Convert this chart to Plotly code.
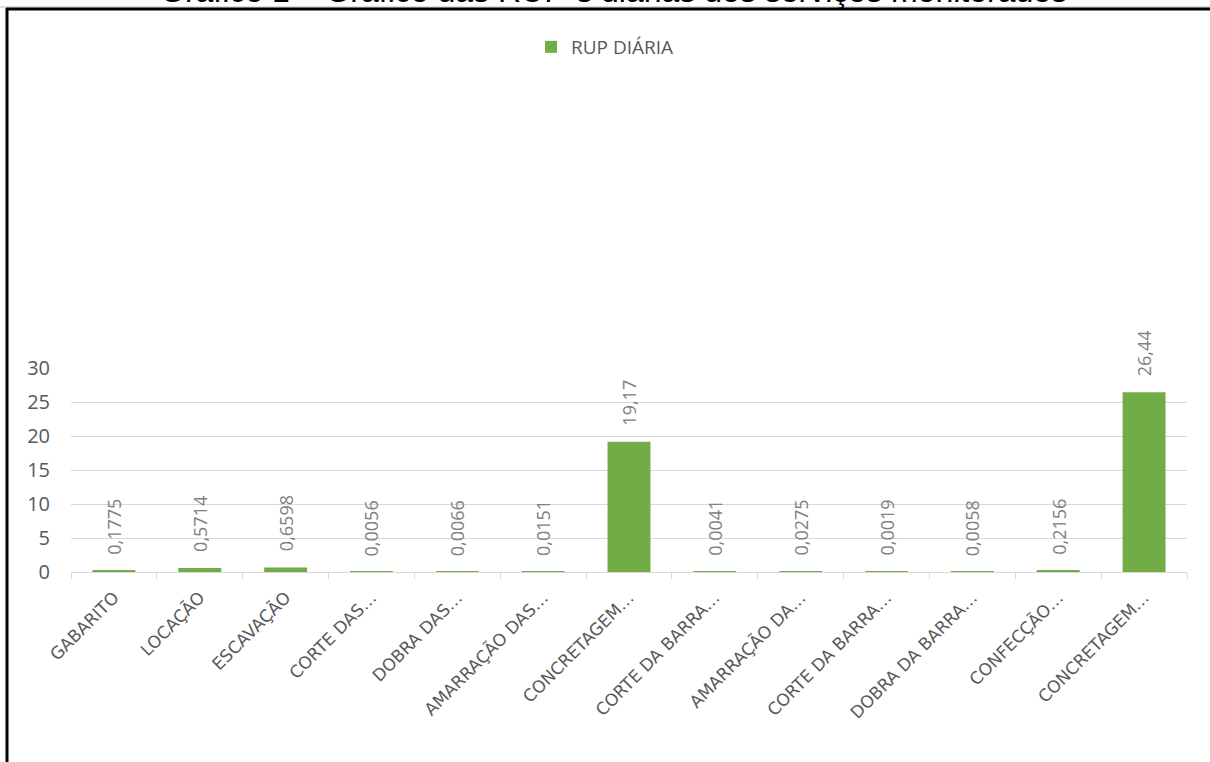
import plotly.graph_objects as go

categories = ["GABARITO", "LOCAÇÃO", "ESCAVAÇÃO", "CORTE DAS…", "DOBRA DAS…",
              "AMARRAÇÃO DAS…", "CONCRETAGEM…", "CORTE DA BARRA…", "AMARRAÇÃO DA…",
              "CORTE DA BARRA…", "DOBRA DA BARRA…", "CONFECÇÃO…", "CONCRETAGEM…"]
rup_diaria = [0.1775, 0.5714, 0.6598, 0.0056, 0.0066, 0.0151, 19.17,
              0.0041, 0.0275, 0.0019, 0.0058, 0.2156, 26.44]
value_labels = ["0,1775", "0,5714", "0,6598", "0,0056", "0,0066", "0,0151", "19,17",
                "0,0041", "0,0275", "0,0019", "0,0058", "0,2156", "26,44"]
y_ticks = [0, 5, 10, 15, 20, 25, 30]
series_name = "RUP DIÁRIA"
title_text = "Gráfico 1 – Gráfico das RUP´s diárias dos serviços monitorados"

W, H = 1210, 762
GREEN = "#70ad47"
GRID = "#d9d9d9"
TXT = "#595959"

x_idx = list(range(len(categories)))

fig = go.Figure()
fig.add_trace(go.Bar(
    x=x_idx, y=rup_diaria, name=series_name, width=0.5,
    marker=dict(color=GREEN, line=dict(width=0)),
    showlegend=True, hoverinfo="skip",
))

for xi, v, lab in zip(x_idx, rup_diaria, value_labels):
    fig.add_annotation(
        x=xi, y=v, xref="x", yref="y", text=lab, showarrow=False,
        textangle=-90, yanchor="bottom", xanchor="center", yshift=14,
        font=dict(family="Open Sans", size=18, color="#808080"),
    )

# title (partially cut at top as in reference)
fig.add_annotation(
    x=613 / W, y=1 - 11 / H, xref="paper", yref="paper", text=title_text,
    showarrow=False, xanchor="center", yanchor="bottom",
    font=dict(family="Liberation Sans", size=32, color="#000000"),
)

# frame lines
fig.add_shape(type="line", xref="paper", yref="paper",
              x0=0, x1=1, y0=1 - 7 / H, y1=1 - 7 / H,
              line=dict(color="#bfbfbf", width=1))
fig.add_shape(type="line", xref="paper", yref="paper",
              x0=6 / W, x1=1.01, y0=1 - 9 / H, y1=1 - 9 / H,
              line=dict(color="#000000", width=3))
fig.add_shape(type="line", xref="paper", yref="paper",
              x0=7 / W, x1=7 / W, y0=1 - 8 / H, y1=-0.01,
              line=dict(color="#000000", width=3))

fig.update_layout(
    width=W, height=H,
    margin=dict(l=0, r=0, t=0, b=0),
    paper_bgcolor="white", plot_bgcolor="white",
    bargap=0.5,
    legend=dict(orientation="h", x=0.5, xanchor="center", y=1 - 28 / H, yanchor="top",
                font=dict(family="Open Sans", size=19, color=TXT),
                itemwidth=30, bgcolor="rgba(0,0,0,0)"),
    xaxis=dict(
        domain=[71 / W, 1187 / W], range=[-0.5, len(categories) - 0.5],
        tickmode="array", tickvals=x_idx, ticktext=categories,
        tickangle=-45, ticks="", showgrid=False, zeroline=False,
        showline=True, linecolor=GRID, linewidth=1,
        tickfont=dict(family="DejaVu Sans", size=17, color=TXT),
        ticklabelstandoff=8, automargin=False,
        minor=dict(tickmode="array",
                   tickvals=[i - 0.5 for i in range(len(categories) + 1)],
                   ticks="outside", ticklen=6, tickcolor=GRID, tickwidth=1,
                   showgrid=False),
    ),
    yaxis=dict(
        domain=[1 - 572 / H, 1 - 368 / H], range=[0, 30],
        tickmode="array", tickvals=y_ticks, ticktext=[str(t) for t in y_ticks],
        showgrid=True, gridcolor=GRID, gridwidth=1, zeroline=False,
        showline=False, ticks="",
        tickfont=dict(family="Open Sans", size=20, color=TXT),
        ticklabelstandoff=20, automargin=False,
    ),
)

fig.write_html("out.html")
